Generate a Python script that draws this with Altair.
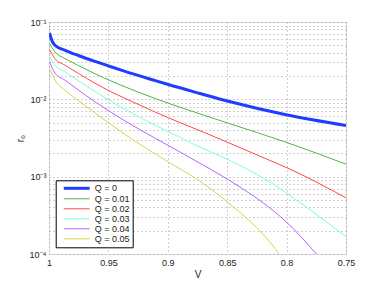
import altair as alt
import pandas as pd

# ---- data ----
labels = ["Q = 0", "Q = 0.01", "Q = 0.02", "Q = 0.03", "Q = 0.04", "Q = 0.05"]

v_q0 = [0.9995, 0.9977, 0.995, 0.9865, 0.9753, 0.9613, 0.9472, 0.936, 0.9122, 0.8996, 0.8729, 0.8499, 0.8005, 0.75]
r_q0 = [0.0721, 0.0580, 0.0500, 0.0431, 0.0369, 0.0309, 0.02615, 0.0230, 0.01776, 0.01553, 0.01189, 0.00950, 0.00632, 0.00459]

v_q1 = [0.9995, 0.995, 0.9865, 0.9753, 0.9613, 0.9472, 0.936, 0.9122, 0.8996, 0.8729, 0.8499, 0.8005, 0.75]
r_q1 = [0.0526, 0.0410, 0.0336, 0.02734, 0.02143, 0.01708, 0.0145, 0.01046, 0.00891, 0.00648, 0.00496, 0.00279, 0.00145]

v_q2 = [0.9995, 0.995, 0.9865, 0.9753, 0.9613, 0.9472, 0.936, 0.9122, 0.8996, 0.8729, 0.8499, 0.8098, 0.8005, 0.75]
r_q2 = [0.0440, 0.0336, 0.0276, 0.02161, 0.01615, 0.01239, 0.01028, 0.00702, 0.00578, 0.00393, 0.00279, 0.00152, 0.00132, 0.000532]

v_q3 = [0.9995, 0.995, 0.9865, 0.9753, 0.9613, 0.9472, 0.936, 0.9122, 0.8897, 0.8771, 0.8499, 0.8098, 0.8005, 0.75]
r_q3 = [0.0360, 0.0276, 0.0226, 0.01739, 0.01264, 0.00931, 0.00741, 0.00477, 0.00321, 0.00258, 0.00168, 0.000776, 0.000621, 0.000167]

v_q4 = [0.9995, 0.995, 0.9865, 0.9753, 0.9613, 0.9472, 0.936, 0.9122, 0.8996, 0.8771, 0.8499, 0.8098, 0.8005, 0.7747]
r_q4 = [0.0304, 0.0219, 0.0177, 0.01319, 0.00931, 0.00671, 0.00525, 0.00324, 0.00253, 0.00162, 0.000929, 0.000348, 0.000262, 0.0000989]

v_q5 = [0.9995, 0.995, 0.9865, 0.9753, 0.9613, 0.9472, 0.936, 0.8996, 0.8771, 0.8499, 0.8098, 0.8061]
r_q5 = [0.0250, 0.0177, 0.01312, 0.00965, 0.00665, 0.00463, 0.00351, 0.00155, 0.000964, 0.000472, 0.000118, 0.0000989]

x_ticks = [1, 0.95, 0.9, 0.85, 0.8, 0.75]
y_ticks = [0.0001, 0.0002, 0.0003, 0.0004, 0.0005, 0.0006, 0.0007, 0.0008, 0.0009,
           0.001, 0.002, 0.003, 0.004, 0.005, 0.006, 0.007, 0.008, 0.009,
           0.01, 0.02, 0.03, 0.04, 0.05, 0.06, 0.07, 0.08, 0.09, 0.1]

colors = ["#1f3dff", "#4cbb3c", "#ff4a4a", "#7affd6", "#b464ff", "#cfd948"]
widths = [3, 1, 1, 1, 1, 1]

series = [(labels[0], v_q0, r_q0), (labels[1], v_q1, r_q1), (labels[2], v_q2, r_q2),
          (labels[3], v_q3, r_q3), (labels[4], v_q4, r_q4), (labels[5], v_q5, r_q5)]
rows = []
for lab, vs, rs in series:
    for v, r in zip(vs, rs):
        rows.append({"Q": lab, "V": v, "r0": r})
df = pd.DataFrame(rows)

font = "Liberation Sans"
y_label_expr = ("datum.value == 0.1 ? '10\u207b\u00b9' : datum.value == 0.01 ? '10\u207b\u00b2' : "
                "datum.value == 0.001 ? '10\u207b\u00b3' : datum.value == 0.0001 ? '10\u207b\u2074' : ''")

grid_color = "#a0a0a0"

chart = alt.Chart(df).mark_line(clip=True, interpolate="monotone").encode(
    x=alt.X("V:Q",
            scale=alt.Scale(domain=[0.75, 1], reverse=True, nice=False, zero=False),
            axis=alt.Axis(values=x_ticks, format="~g", title="V", grid=True,
                          gridDash=[1, 3], gridColor=grid_color, ticks=False, domain=False,
                          labelFlush=False, labelOverlap=False,
                          labelFont=font, labelFontSize=9, labelColor="#222", labelPadding=4,
                          titleFont=font, titleFontSize=10, titleFontWeight="normal",
                          titleColor="#222", titlePadding=2)),
    y=alt.Y("r0:Q",
            scale=alt.Scale(type="log", domain=[0.0001, 0.1], nice=False),
            axis=alt.Axis(values=y_ticks, labelExpr=y_label_expr, title="r\u2080", grid=True,
                          gridDash=[1, 3], gridColor=grid_color, ticks=False, domain=False,
                          labelFlush=False, labelOverlap=False,
                          labelFont=font, labelFontSize=9, labelColor="#222", labelPadding=3,
                          titleFont=font, titleFontSize=10, titleFontWeight="normal",
                          titleColor="#222", titlePadding=4)),
    color=alt.Color("Q:N", sort=labels,
                    scale=alt.Scale(domain=labels, range=colors),
                    legend=alt.Legend(title=None, orient="none", legendX=6.7, legendY=158.3,
                                      symbolType="M-3.7,0H3.7", symbolSize=49, symbolOffset=13,
                                      labelOffset=13, labelFont=font, labelFontSize=9,
                                      labelColor="#222", rowPadding=0, padding=3,
                                      strokeColor="black", fillColor="white", cornerRadius=0)),
    strokeWidth=alt.StrokeWidth("Q:N", sort=labels,
                                scale=alt.Scale(type="ordinal", domain=labels, range=widths)),
    order=alt.Order("V:Q", sort="ascending"),
).properties(
    width=297, height=232,
    autosize=alt.AutoSizeParams(type="none"),
    padding={"left": 41, "top": 14, "right": 28, "bottom": 25},
).configure_view(
    stroke="black", strokeWidth=1
).configure(background="white")

chart.save("out.html", embed_options={"renderer": "svg", "actions": False})
